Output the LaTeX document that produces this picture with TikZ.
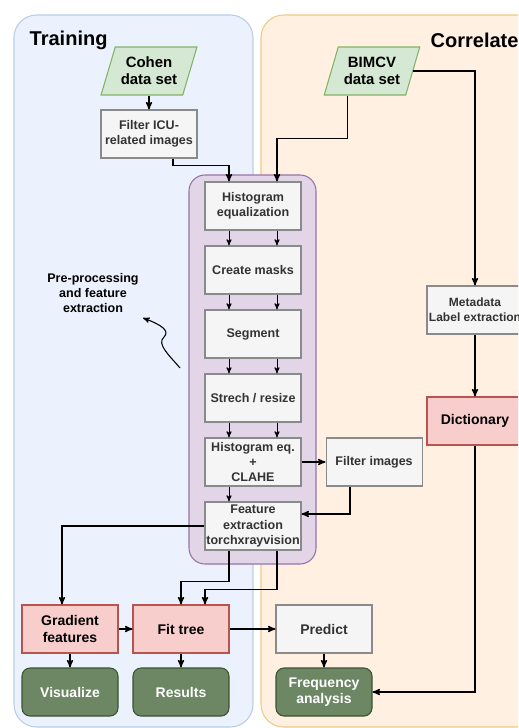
\documentclass[tikz,border=0pt]{standalone}
\usepackage{fontspec}
\setmainfont{Liberation Sans}
\usetikzlibrary{arrows,positioning,shapes.geometric}

\definecolor{trainFill}{HTML}{EBF2FD}
\definecolor{trainLine}{HTML}{B9CDEA}
\definecolor{corrFill}{HTML}{FFF0E2}
\definecolor{corrLine}{HTML}{EDCB85}
\definecolor{preFill}{HTML}{E1D5E7}
\definecolor{preLine}{HTML}{9673A6}
\definecolor{greyFill}{HTML}{F5F5F5}
\definecolor{greyLine}{HTML}{8A8A8A}
\definecolor{greyText}{HTML}{333333}
\definecolor{dataFill}{HTML}{D5E8D4}
\definecolor{dataLine}{HTML}{82B366}
\definecolor{redFill}{HTML}{F8CECC}
\definecolor{redLine}{HTML}{B85450}
\definecolor{outFill}{HTML}{6D8764}
\definecolor{outLine}{HTML}{3A5431}

\begin{document}
\begin{tikzpicture}[x=0.75pt,y=-0.75pt,>=stealth',node distance=11.2pt,
  panel/.style={line width=0.8pt,rounded corners=17pt},
  title/.style={anchor=west,font=\bfseries\fontsize{15}{18}\selectfont},
  graybox/.style={draw=greyLine,fill=greyFill,text=greyText,line width=0.8pt,
    minimum width=72pt,minimum height=36pt,inner sep=1pt,align=center,
    font=\bfseries\fontsize{9.4}{11.6}\selectfont},
  dataset/.style={trapezium,trapezium left angle=67,trapezium right angle=113,
    trapezium stretches=true,draw=dataLine,fill=dataFill,line width=0.8pt,
    minimum width=72pt,minimum height=36pt,inner sep=0pt,align=center,
    font=\bfseries\fontsize{11.2}{12.8}\selectfont},
  redbox/.style={draw=redLine,fill=redFill,line width=0.8pt,
    minimum width=72pt,minimum height=36pt,inner sep=1pt,align=center,
    font=\bfseries\fontsize{10.5}{12.5}\selectfont},
  outbox/.style={draw=outLine,fill=outFill,text=white,line width=0.8pt,
    rounded corners=6pt,minimum width=72pt,minimum height=36pt,inner sep=1pt,
    align=center,font=\bfseries\fontsize{10.5}{12.5}\selectfont},
  link/.style={->,line width=1pt},
  inner/.style={->,line width=0.7pt}]
  \clip (0,0) rectangle (518,728);
  % panels
  \draw[panel,draw=trainLine,fill=trainFill] (14,15) rectangle (253,727);
  \draw[panel,draw=corrLine,fill=corrFill] (261,15) rectangle (580,727);
  \node[title] (ttrain) at (25,40) {Training};
  \node[title] (tcorr) at (426,40) {Correlate};
  \draw[draw=preLine,fill=preFill,line width=0.8pt,rounded corners=12pt]
    (189,175) rectangle (316,564);

  % data sets
  \node[dataset] (cohen) at (149,71) {Cohen\\data set};
  \node[dataset] (bimcv) at (372,71) {BIMCV\\data set};
  \node[graybox] (icu) at (149,134) {Filter ICU-\\related images};

  % pre-processing chain
  \node[graybox] (hist) at (253,206) {Histogram\\equalization};
  \node[graybox] (masks) [below=of hist] {Create masks};
  \node[graybox] (seg) [below=of masks] {Segment};
  \node[graybox] (resize) [below=of seg] {Strech / resize};
  \node[graybox] (clahe) [below=of resize] {Histogram eq.\\+\\CLAHE};
  \node[graybox] (feat) [below=of clahe] {Feature\\extraction\\torchxrayvision};
  \node[graybox] (filt) [right=18pt of clahe] {Filter images};

  % correlate side
  \node[graybox,font=\bfseries\fontsize{9}{11.2}\selectfont] (meta) at (475,310)
    {Metadata\\Label extraction};
  \node[redbox] (dict) at (475,421) {Dictionary};

  % bottom rows
  \node[redbox] (grad) at (70,629) {Gradient\\features};
  \node[redbox] (fit) at (181,629) {Fit tree};
  \node[graybox,font=\bfseries\fontsize{10.5}{12.5}\selectfont] (pred) at (324,629) {Predict};
  \node[outbox] (vis) at (70,692) {Visualize};
  \node[outbox] (res) at (181,692) {Results};
  \node[outbox] (freq) at (324,692) {Frequency\\analysis};

  \node[align=center,font=\bfseries\fontsize{9.4}{11.6}\selectfont] (pre) at (93,293)
    {Pre-processing\\and feature\\extraction};
  \coordinate (curlA) at (180,368);
  \coordinate (curlB) at (143,318);

  \foreach \a/\b in {hist/masks,masks/seg,seg/resize,resize/clahe}{
    \draw[inner] ([xshift=-18pt]\a.south) -- ([xshift=-18pt]\b.north);
    \draw[inner] ([xshift=18pt]\a.south) -- ([xshift=18pt]\b.north);
  }
  \draw[inner] ([xshift=-18pt]clahe.south) -- ([xshift=-18pt]feat.north);

  \draw[link] (cohen.south -| icu.north) -- (icu.north);
  \draw[link] ([xshift=18pt]icu.south) -- ++(0,7) -| ([xshift=-18pt]hist.north);
  \draw[link] ([xshift=18pt]bimcv.bottom left corner) -- ++(0,43) -| ([xshift=18pt]hist.north);
  \draw[link] (bimcv.east) -| (meta.north);
  \draw[link] (meta) -- (dict);
  \draw[link] (dict.south) |- (freq.east);
  \draw[link] (clahe) -- (filt);
  \draw[link] ([xshift=-18pt]filt.south) |- ([yshift=9pt]feat.east);
  \draw[link] (feat.west) -| ([xshift=-6pt]grad.north);
  \draw[link] ([xshift=-18pt]feat.south) -- ++(0,31) -| (fit.north);
  \draw[link] ([xshift=18pt]feat.south) -- ++(0,39) -| ([xshift=18pt]fit.north);
  \draw[link] (grad) -- (fit);
  \draw[link] (fit) -- (pred);
  \draw[link] (grad) -- (vis);
  \draw[link] (fit) -- (res);
  \draw[link] (pred) -- (freq);
  \draw[->,line width=0.8pt] (curlA) .. controls (170,356) and (156,344) .. (164,337)
    .. controls (170,331) and (162,325) .. (curlB);
\end{tikzpicture}
\end{document}
